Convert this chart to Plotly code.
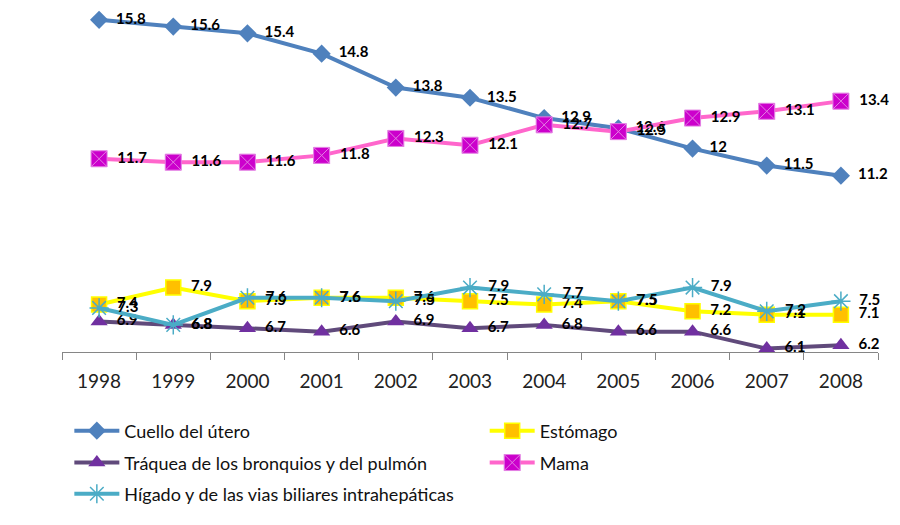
import plotly.graph_objects as go

years = ["1998", "1999", "2000", "2001", "2002", "2003", "2004", "2005", "2006", "2007", "2008"]
cuello = [15.8, 15.6, 15.4, 14.8, 13.8, 13.5, 12.9, 12.6, 12, 11.5, 11.2]
estomago = [7.4, 7.9, 7.5, 7.6, 7.6, 7.5, 7.4, 7.5, 7.2, 7.1, 7.1]
traquea = [6.9, 6.8, 6.7, 6.6, 6.9, 6.7, 6.8, 6.6, 6.6, 6.1, 6.2]
mama = [11.7, 11.6, 11.6, 11.8, 12.3, 12.1, 12.7, 12.5, 12.9, 13.1, 13.4]
higado = [7.3, 6.8, 7.6, 7.6, 7.5, 7.9, 7.7, 7.5, 7.9, 7.2, 7.5]

names = ["Cuello del útero", "Estómago", "Tráquea de los bronquios y del pulmón",
         "Mama", "Hígado y de las vias biliares intrahepáticas"]
legend_ids = ["legend", "legend2", "legend3", "legend4", "legend5"]

def lab(vals):
    return ["  " + (str(v) if v != int(v) else str(int(v))) for v in vals]

series = [
    (names[0], cuello, "#4F81BD", dict(symbol="diamond", size=14, color="#4F81BD", line=dict(width=0))),
    (names[1], estomago, "#FFFF00", dict(symbol="square", size=15, color="#FFC000", line=dict(width=1.5, color="#FFFF00"))),
    (names[2], traquea, "#604A7B", dict(symbol="triangle-up", size=15, color="#7030A0", line=dict(width=0))),
    (names[3], mama, "#FF66CC", dict(symbol="square-x", size=16, color="#CC00CC", line=dict(width=1, color="#E37FE3"))),
    (names[4], higado, "#4BACC6", dict(symbol="asterisk-open", size=16, color="#4BACC6", line=dict(width=1.5, color="#4BACC6"))),
]

fig = go.Figure()
for (name, vals, col, mk), lg in zip(series, legend_ids):
    fig.add_trace(go.Scatter(
        x=years, y=vals, name=name, mode="lines+markers+text",
        line=dict(color=col, width=4), marker=mk,
        text=lab(vals), textposition="middle right",
        textfont=dict(family="Lato", size=15, color="black", weight="bold"),
        cliponaxis=False, legend=lg,
    ))

leg_common = dict(orientation="v", xanchor="left", yanchor="middle", itemwidth=45,
                  font=dict(family="Lato", size=18, color="#111"),
                  bgcolor="rgba(0,0,0,0)")
col_x = [0.009, 0.518]
row_y = [-0.233, -0.327, -0.419]

fig.update_layout(
    width=900, height=525,
    margin=dict(l=54, r=30, t=5, b=181, autoexpand=False),
    paper_bgcolor="white", plot_bgcolor="white",
    font=dict(family="Lato", color="black"),
    showlegend=True,
    legend=dict(leg_common, x=col_x[0], y=row_y[0]),
    legend2=dict(leg_common, x=col_x[1], y=row_y[0]),
    legend3=dict(leg_common, x=col_x[0], y=row_y[1]),
    legend4=dict(leg_common, x=col_x[1], y=row_y[1]),
    legend5=dict(leg_common, x=col_x[0], y=row_y[2]),
    xaxis=dict(type="category", range=[-0.5, 10.5], showgrid=False, zeroline=False,
               showline=True, linecolor="#868686", linewidth=1, automargin=False,
               ticks="outside", tickson="boundaries", ticklen=7, tickcolor="#868686",
               tickfont=dict(family="Lato", size=19, color="#222"),
               ticklabelstandoff=12),
    yaxis=dict(range=[6, 16], visible=False, showgrid=False, zeroline=False, automargin=False),
)

fig.write_html("out.html")
